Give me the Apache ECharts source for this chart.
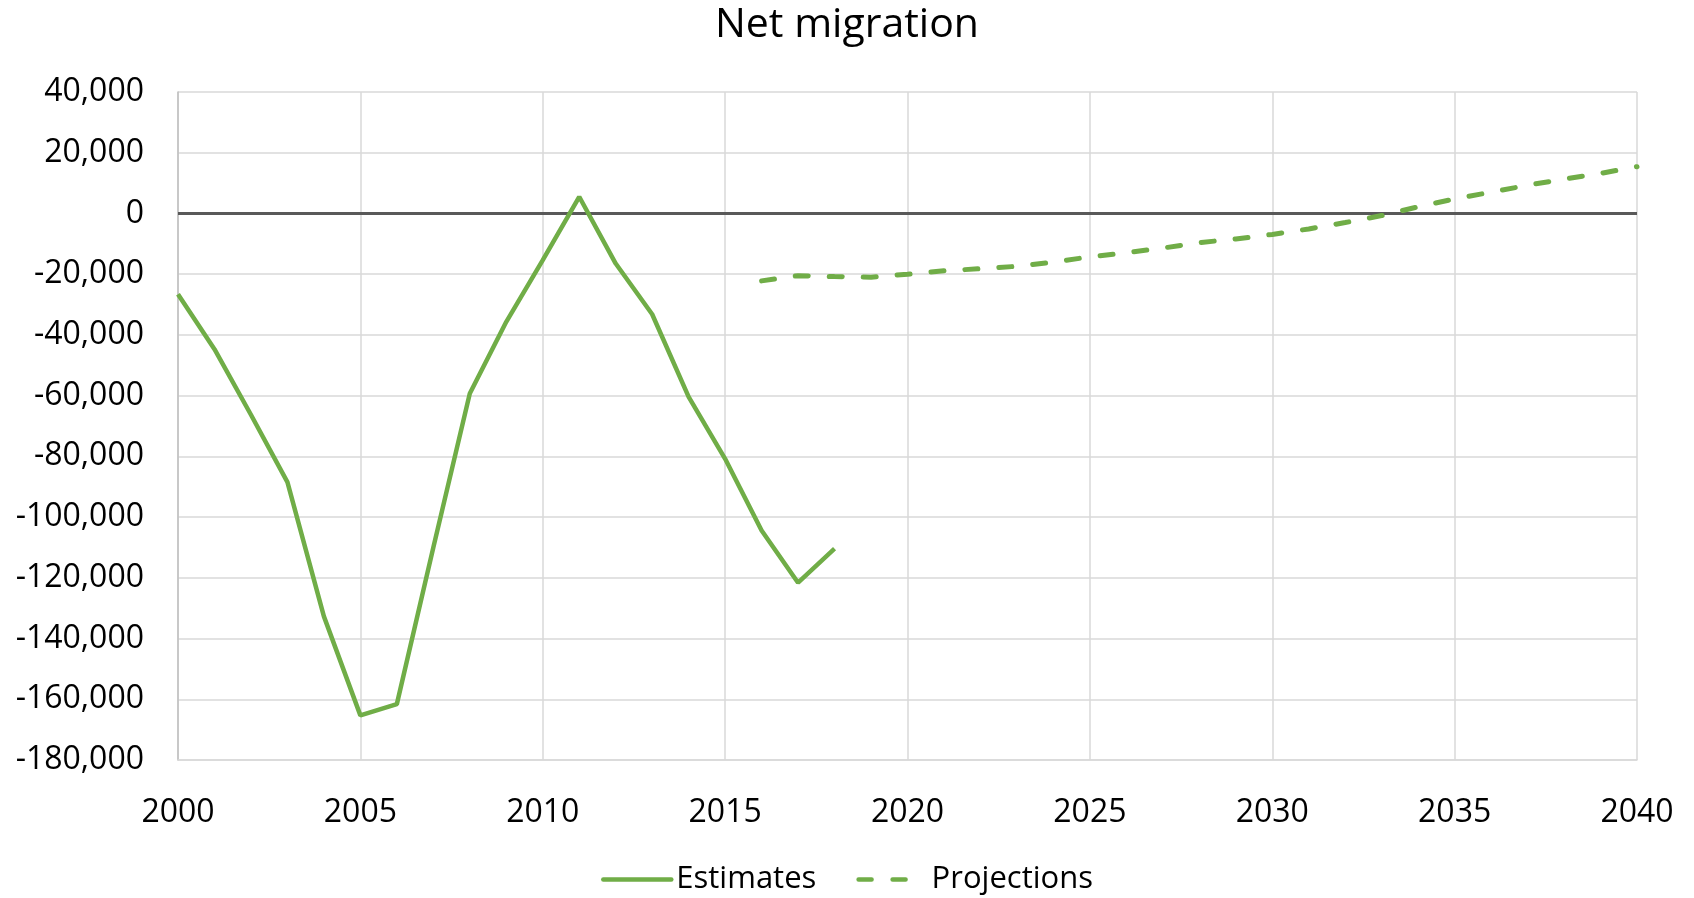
<!DOCTYPE html>
<html>
<head>
<meta charset="utf-8">
<title>Net migration</title>
<script src="https://cdn.jsdelivr.net/npm/echarts@6/dist/echarts.min.js"></script>
<style>
  html, body { margin: 0; padding: 0; background: #fff; }
  #chart { width: 1694px; height: 898px; }
</style>
</head>
<body>
<div id="chart"></div>
<script>
// estimates, one value per year from 2000
var estimateYears = [2000, 2001, 2002, 2003, 2004, 2005, 2006, 2007, 2008, 2009,
                     2010, 2011, 2012, 2013, 2014, 2015, 2016, 2017, 2018];
var estimateValues = [-26600, -44700, -66300, -88500, -132700, -165300, -161600, -110000, -59300, -35700,
                      -15400, 5500, -16500, -33200, -60400, -80800, -104400, -121600, -110400];

// projections from 2016 on
var projectionYears = [2016, 2017, 2018, 2019, 2020, 2021, 2022, 2023, 2024, 2025, 2026, 2027, 2028,
                       2029, 2030, 2031, 2032, 2033, 2034, 2035, 2036, 2037, 2038, 2039, 2040];
var projectionValues = [-22200, -20500, -20800, -21000, -20000, -18900, -18200, -17400, -16000, -14300,
                        -12900, -11400, -9600, -8400, -6900, -5100, -3000, -700, 2200, 4800,
                        7000, 9300, 11300, 13200, 15400];

var seriesNames = ['Estimates', 'Projections'];

function pairs(xs, ys) {
  var out = [];
  for (var i = 0; i < xs.length; i++) {
    out.push([xs[i], ys[i]]);
  }
  return out;
}

var green = '#70ad47';
var font = '"Open Sans", "Noto Sans", sans-serif';

var option = {
  animation: false,
  backgroundColor: '#fff',
  title: {
    text: 'Net migration',
    left: 'center',
    top: 0,
    textStyle: { fontFamily: font, fontSize: 41, fontWeight: 'normal', color: '#000' }
  },
  legend: {
    bottom: -2,
    left: 'center',
    itemWidth: 68,
    itemHeight: 14,
    itemGap: 40,
    textStyle: { fontFamily: font, fontSize: 31, color: '#000' },
    itemStyle: { opacity: 0 },
    lineStyle: { width: 4.5, cap: 'round' },
    data: seriesNames
  },
  grid: {
    left: 178,
    right: 57,
    top: 92,
    bottom: 138
  },
  xAxis: {
    type: 'value',
    min: 2000,
    max: 2040,
    interval: 5,
    axisLine: { show: true, onZero: false, lineStyle: { color: '#d9d9d9', width: 1.5 } },
    axisTick: { show: false },
    splitLine: { show: true, lineStyle: { color: '#d9d9d9', width: 1.5 } },
    axisLabel: {
      fontFamily: font, fontSize: 32, color: '#000', margin: 37,
      formatter: function (v) { return String(v); }
    }
  },
  yAxis: {
    type: 'value',
    min: -180000,
    max: 40000,
    interval: 20000,
    axisLine: { show: true, lineStyle: { color: '#bfbfbf', width: 1.5 } },
    axisTick: { show: false },
    splitLine: { show: true, lineStyle: { color: '#d9d9d9', width: 1.5 } },
    axisLabel: {
      fontFamily: font, fontSize: 32, color: '#000', margin: 34,
      formatter: function (v) { return v.toLocaleString('en-US'); }
    }
  },
  series: [
    {
      name: seriesNames[0],
      type: 'line',
      data: pairs(estimateYears, estimateValues),
      symbol: 'none',
      lineStyle: { color: green, width: 4.5 },
      itemStyle: { color: green },
      z: 3,
      markLine: {
        silent: true,
        symbol: 'none',
        label: { show: false },
        lineStyle: { color: '#595959', width: 3, type: 'solid' },
        data: [{ yAxis: 0 }],
        z: 2
      }
    },
    {
      name: seriesNames[1],
      type: 'line',
      data: pairs(projectionYears, projectionValues),
      symbol: 'none',
      lineStyle: { color: green, width: 5, type: [13, 21], cap: 'round' },
      itemStyle: { color: green },
      z: 3
    }
  ]
};

var myChart = echarts.init(document.getElementById('chart'));
myChart.setOption(option);
</script>
</body>
</html>
